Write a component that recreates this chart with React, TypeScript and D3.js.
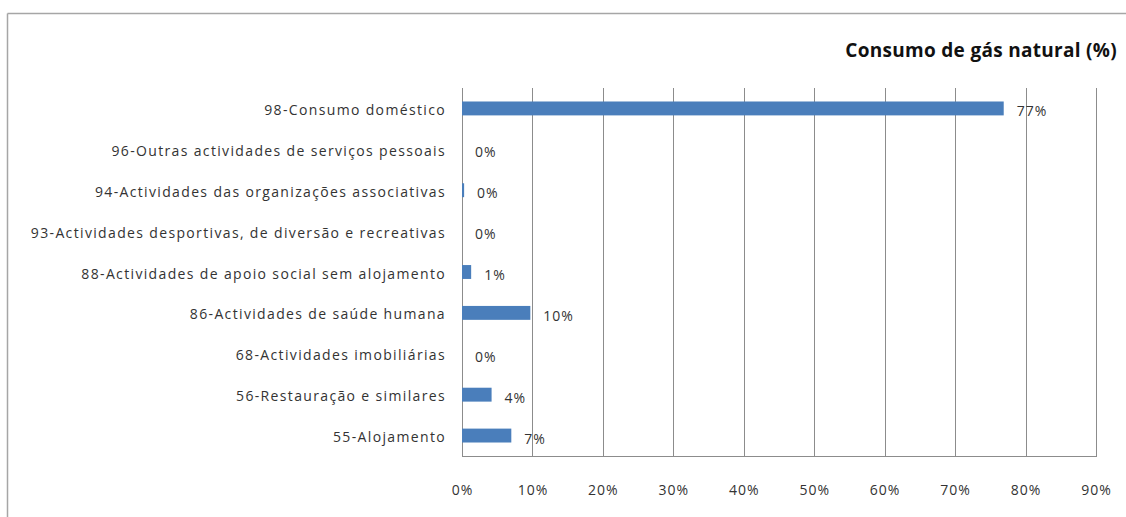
import React from "react";
import * as d3 from "d3";

const categories: string[] = [
  "98-Consumo doméstico",
  "96-Outras actividades de serviços pessoais",
  "94-Actividades das organizações associativas",
  "93-Actividades desportivas, de diversão e recreativas",
  "88-Actividades de apoio social sem alojamento",
  "86-Actividades de saúde humana",
  "68-Actividades imobiliárias",
  "56-Restauração e similares",
  "55-Alojamento",
];
const values: number[] = [76.9, 0, 0.3, 0, 1.3, 9.7, 0, 4.2, 7.0];
const ticks: number[] = [0, 10, 20, 30, 40, 50, 60, 70, 80, 90];
const title = "Consumo de gás natural (%)";

const W = 1126;
const H = 517;
const FONT = "'Open Sans', Calibri, sans-serif";

export default function App() {
  const x = d3.scaleLinear().domain([0, 90]).range([462, 1096]);
  const y = d3
    .scaleBand<string>()
    .domain(categories)
    .range([88, 456])
    .paddingInner(0.66)
    .paddingOuter(0.33);
  const [y0, y1] = [88, 456];
  const grid = "#8c8c8c";
  return (
    <svg
      width={W}
      height={H}
      style={{ position: "absolute", left: 0, top: 0, background: "#fff" }}
    >
      <rect x={0} y={0} width={W} height={H} fill="#fff" />
      {/* outer frame (top and left visible) */}
      <line x1={7.5} y1={13.5} x2={W} y2={13.5} stroke="#a6a6a6" strokeWidth={1.5} />
      <line x1={7.5} y1={13.5} x2={7.5} y2={H} stroke="#a6a6a6" strokeWidth={1.5} />
      <text
        x={1117}
        y={57}
        textAnchor="end"
        fontFamily={FONT}
        fontWeight="bold"
        fontSize={19}
        letterSpacing={0.3}
        fill="#111"
      >
        {title}
      </text>
      {/* gridlines */}
      {ticks.map((t) => (
        <line
          key={"g" + t}
          x1={Math.round(x(t)) + 0.5}
          x2={Math.round(x(t)) + 0.5}
          y1={y0}
          y2={y1}
          stroke={grid}
          strokeWidth={1}
        />
      ))}
      <line x1={x(0)} x2={x(90) + 1} y1={y1 + 0.5} y2={y1 + 0.5} stroke={grid} strokeWidth={1} />
      {/* tick labels */}
      {ticks.map((t) => (
        <text
          key={"t" + t}
          x={x(t) + 0.5}
          y={495}
          textAnchor="middle"
          fontFamily={FONT}
          fontSize={14}
          letterSpacing={1}
          fill="#333"
        >
          {t + "%"}
        </text>
      ))}
      {/* category labels */}
      {categories.map((c) => (
        <text
          key={"c" + c}
          x={446}
          y={(y(c) as number) + y.bandwidth() / 2 + 6.5}
          textAnchor="end"
          fontFamily={FONT}
          fontSize={14}
          letterSpacing={1.35}
          fill="#333"
        >
          {c}
        </text>
      ))}
      {/* bars */}
      {categories.map((c, i) => (
        <rect
          key={"b" + c}
          x={x(0)}
          y={y(c) as number}
          width={Math.max(0, x(values[i]) - x(0))}
          height={y.bandwidth()}
          fill="#4a7ebb"
        />
      ))}
      {/* value labels */}
      {categories.map((c, i) => (
        <text
          key={"v" + c}
          x={x(values[i]) + 13}
          y={(y(c) as number) + y.bandwidth() / 2 + 8}
          textAnchor="start"
          fontFamily={FONT}
          fontSize={14}
          letterSpacing={1}
          fill="#333"
        >
          {Math.round(values[i]) + "%"}
        </text>
      ))}
    </svg>
  );
}
